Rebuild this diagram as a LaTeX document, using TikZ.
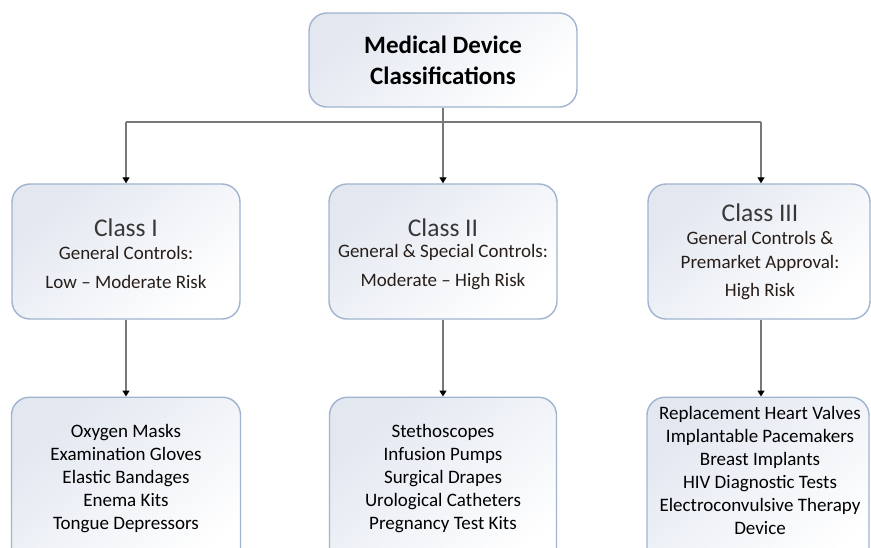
\documentclass[tikz,border=0pt]{standalone}
\usepackage{fontspec}
\setmainfont{Carlito}
\usetikzlibrary{arrows.meta}
\definecolor{boxborder}{RGB}{160,180,208}
\definecolor{boxfill}{RGB}{226,231,240}
\definecolor{linegray}{RGB}{120,120,120}
\definecolor{titlegray}{RGB}{55,55,55}
\definecolor{subtext}{RGB}{40,30,25}
\tikzset{
  box/.style={draw=boxborder, line width=1.4pt, rounded corners=18pt,
    top color=boxfill, bottom color=white, shading angle=40,
    minimum width=228pt, minimum height=135pt, inner sep=0pt},
  conn/.style={draw=linegray, line width=1.3pt},
  arr/.style={conn, -{Triangle[width=7pt,length=6pt,fill=black,color=black]}},
  subt/.style={font=\fontsize{19}{24}\selectfont, text=subtext, align=center},
  clsname/.style={font=\fontsize{25.5}{28}\selectfont, text=titlegray},
  listt/.style={font=\fontsize{19}{23}\selectfont, text=black, align=center}
}
\begin{document}
\begin{tikzpicture}[x=1pt,y=-1pt]
\clip (0,0) rectangle (871,547);
\fill[white] (0,0) rectangle (871,547);
% top box
\node[box, minimum width=268pt, minimum height=94pt] (top) at (443,60) {};
\node[font=\fontsize{25}{31}\bfseries\selectfont, align=center, text=black] (toptext) at (443,60) {Medical Device\\Classifications};
% class boxes
\node[box] (c1) at (126,251.5) {};
\node[box] (c2) at (443,251.5) {};
\node[box, minimum width=222pt] (c3) at (759,251.5) {};
% class texts
\node[clsname] (c1name) at (126,228) {Class I};
\node[subt] (c1sub) at (126,267.5) {General Controls:\\[5pt]Low -- Moderate Risk};
\node[clsname] (c2name) at (443,228) {Class II};
\node[subt] (c2sub) at (443,267.5) {General \& Special Controls:\\[5pt]Moderate -- High Risk};
\node[clsname] (c3name) at (760,213) {Class III};
\node[subt] (c3sub) at (760,266) {General Controls \&\\Premarket Approval:\\[4pt]High Risk};
% bottom boxes
\node[box, anchor=north, minimum height=180pt, minimum width=229pt] (b1) at (126,396.5) {};
\node[box, anchor=north, minimum height=180pt, minimum width=227pt] (b2) at (443,396.5) {};
\node[box, anchor=north, minimum height=180pt, minimum width=222pt] (b3) at (758,396.5) {};
\node[listt] (b1text) at (126,479) {Oxygen Masks\\Examination Gloves\\Elastic Bandages\\Enema Kits\\Tongue Depressors};
\node[listt] (b2text) at (443,479) {Stethoscopes\\Infusion Pumps\\Surgical Drapes\\Urological Catheters\\Pregnancy Test Kits};
\node[listt] (b3text) at (760,470.5) {Replacement Heart Valves\\Implantable Pacemakers\\Breast Implants\\HIV Diagnostic Tests\\Electroconvulsive Therapy\\Device};
% connectors
\coordinate (j) at (443,122);
\coordinate (jl) at (126,122);
\coordinate (jr) at (761,122);
\draw[conn] (top.south) -- (j);
\draw[conn] (jl) -- (jr);
\draw[arr] (jl) -- (jl |- c1.north);
\draw[arr] (j) -- (c2.north);
\draw[arr] (jr) -- (jr |- c3.north);
\draw[arr] (c1.south) -- (b1.north);
\draw[arr] (c2.south) -- (b2.north);
\draw[arr] (c3.south -| jr) -- (jr |- b3.north);
\end{tikzpicture}
\end{document}
